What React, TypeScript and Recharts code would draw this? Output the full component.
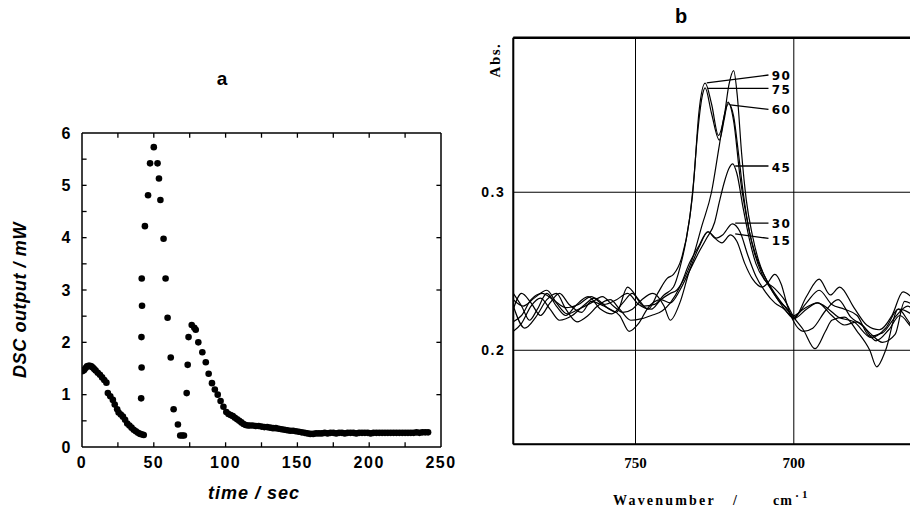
import React from 'react';
import {
  ScatterChart, Scatter, LineChart, Line, XAxis, YAxis, CartesianGrid,
  ReferenceLine, ReferenceDot,
} from 'recharts';

// ---------- Panel a: DSC output vs time ----------
const timeSec = [
  0.5, 1.5, 2.5, 3.5, 4.5, 5.5, 6.5, 7.5, 8.5, 9.5, 11, 12.5, 14, 15.5, 17,
  18, 19.7, 21.5, 22.8, 24.5, 25.5, 27, 28.5, 30, 31.5, 33, 34.5, 36, 37.5, 39, 40.5, 42, 43,
  41.2, 41.5, 41.4, 41.8, 41.6, 43.8, 46, 47.4, 50, 52.6, 53.6, 54.6, 56.8, 58.2, 59.6, 61.8, 63.8, 66.8, 68.4, 69.8, 71,
  72.9, 73.6, 74.2, 76.4, 78.2, 79.2, 81, 83.8, 86.2, 88.2, 90.5, 92.5, 94.5, 96.5, 98.5, 100.5,
  102, 103.5, 105, 106.5, 108, 109.5, 111, 112.5, 114, 115.5, 117, 119, 121, 123, 125, 127, 129, 131, 133, 135,
  137, 139, 141, 143, 145, 147, 149, 151, 153, 155, 157, 159, 161, 163, 165, 167, 169, 171, 173, 175,
  177, 179, 181, 183, 185, 187, 189, 191, 193, 195, 197, 199, 201, 203, 205, 207, 209, 211, 213, 215,
  217, 219, 221, 223, 225, 227, 229, 231, 233, 235, 237, 239, 241,
];
const dscMw = [
  1.45, 1.47, 1.51, 1.54, 1.55, 1.55, 1.54, 1.52, 1.49, 1.46, 1.42, 1.38, 1.33, 1.28, 1.23,
  1.03, 0.97, 0.9, 0.81, 0.72, 0.66, 0.62, 0.58, 0.52, 0.45, 0.41, 0.37, 0.33, 0.3, 0.27, 0.25, 0.24, 0.23,
  0.93, 1.52, 2.1, 2.7, 3.22, 4.22, 4.81, 5.42, 5.73, 5.42, 5.13, 4.72, 3.98, 3.22, 2.47, 1.71, 0.72, 0.43, 0.22, 0.22, 0.22,
  1.03, 1.57, 2.1, 2.33, 2.28, 2.24, 2.0, 1.81, 1.62, 1.4, 1.22, 1.1, 1.0, 0.88, 0.77, 0.67,
  0.63, 0.61, 0.59, 0.56, 0.53, 0.5, 0.47, 0.44, 0.42, 0.41, 0.41, 0.41, 0.4, 0.4, 0.39, 0.38, 0.38, 0.37, 0.36, 0.36,
  0.35, 0.34, 0.33, 0.32, 0.31, 0.31, 0.3, 0.29, 0.28, 0.27, 0.26, 0.25, 0.25, 0.26, 0.26, 0.26, 0.27, 0.26, 0.27, 0.27,
  0.26, 0.27, 0.27, 0.26, 0.27, 0.27, 0.27, 0.26, 0.27, 0.27, 0.27, 0.27, 0.26, 0.27, 0.27, 0.27, 0.27, 0.27, 0.27, 0.27,
  0.27, 0.27, 0.27, 0.27, 0.27, 0.27, 0.27, 0.27, 0.28, 0.27, 0.28, 0.28, 0.28,
];
const xTicksA = [0, 50, 100, 150, 200, 250];
const xMinorA = [25, 50, 75, 100, 125, 150, 175, 200, 225];
const yTicksA = [0, 1, 2, 3, 4, 5, 6];
const yMinorA = [0.5, 1, 1.5, 2, 2.5, 3, 3.5, 4, 4.5, 5, 5.5];
const yRightA = [1, 2, 3, 4, 5];

// ---------- Panel b: IR spectra ----------
const s90: [number, number][] = [
  [788.6, 0.226], [786, 0.236], [783, 0.230], [780, 0.222], [777, 0.230], [774, 0.236], [771, 0.229], [767, 0.224],
  [764, 0.231], [760, 0.228], [756, 0.224], [752.5, 0.240], [749, 0.232], [746, 0.226], [743, 0.236], [740, 0.2455],
  [738, 0.248], [735.5, 0.258], [733, 0.282], [731.5, 0.31], [730, 0.35], [728, 0.369], [726, 0.356], [723.8, 0.336],
  [722, 0.348], [720.5, 0.368], [719, 0.377], [717.8, 0.36], [716.5, 0.325], [715, 0.295], [713, 0.272], [711, 0.256],
  [708, 0.242], [705, 0.232], [702, 0.226], [700, 0.22], [696, 0.234], [692, 0.245], [688.5, 0.235], [685.5, 0.240],
  [681, 0.227], [677, 0.216], [673, 0.213], [669, 0.222], [665.5, 0.237], [662, 0.232], [658, 0.222], [654, 0.225],
];
const s75: [number, number][] = [
  [788.6, 0.236], [786, 0.228], [783.5, 0.219], [781, 0.226], [778, 0.236], [775, 0.228], [772, 0.222], [769, 0.228],
  [765, 0.234], [761, 0.226], [757.5, 0.223], [754, 0.230], [751, 0.236], [747.5, 0.228], [744, 0.229], [741, 0.235],
  [738, 0.24], [736, 0.252], [734, 0.27], [732, 0.298], [730.5, 0.335], [729, 0.36], [728, 0.366], [726, 0.35],
  [723.5, 0.333], [722, 0.346], [720.8, 0.357], [719, 0.345], [717, 0.31], [715, 0.285], [712.5, 0.262], [710, 0.248],
  [707, 0.238], [704, 0.229], [700, 0.221], [696, 0.23], [692, 0.238], [688, 0.229], [684, 0.226], [680, 0.222],
  [676, 0.209], [672, 0.211], [668, 0.221], [664, 0.228], [660, 0.22], [655, 0.215],
];
const s60: [number, number][] = [
  [788.6, 0.218], [786, 0.222], [783, 0.232], [779.5, 0.236], [776, 0.232], [772, 0.227], [768, 0.229], [764, 0.234],
  [760, 0.229], [756, 0.232], [752.5, 0.236], [749, 0.229], [745, 0.226], [742, 0.232], [739, 0.236], [737, 0.238],
  [735, 0.244], [732, 0.258], [729, 0.279], [726, 0.30], [723.5, 0.33], [721.8, 0.35], [720.6, 0.356], [719, 0.348],
  [717.5, 0.325], [716, 0.30], [714, 0.275], [712, 0.26], [709, 0.246], [706, 0.236], [703, 0.228], [700, 0.222],
  [697, 0.226], [692.5, 0.230], [689, 0.226], [686, 0.221], [681, 0.218], [675.5, 0.208], [671, 0.214], [667, 0.226],
  [663, 0.223], [658, 0.212], [654, 0.210],
];
const s45: [number, number][] = [
  [788.6, 0.212], [786, 0.217], [783, 0.228], [780, 0.233], [777, 0.226], [774, 0.219], [770, 0.222], [766, 0.229],
  [763, 0.233], [759, 0.227], [755, 0.222], [752, 0.212], [749, 0.217], [746, 0.227], [742, 0.232], [739, 0.230],
  [736, 0.238], [733, 0.25], [730, 0.262], [727.5, 0.271], [725, 0.281], [723.5, 0.294], [722, 0.306], [720.5, 0.315],
  [719.3, 0.318], [718, 0.312], [716, 0.29], [714, 0.27], [712, 0.255], [709, 0.244], [706, 0.239], [703, 0.232],
  [700, 0.221], [697, 0.213], [693.3, 0.201], [690, 0.212], [688, 0.219], [684, 0.221], [680, 0.212], [676, 0.200],
  [673.8, 0.1895], [671, 0.20], [667, 0.226], [664, 0.219], [660, 0.207], [655, 0.212],
];
const s30: [number, number][] = [
  [788.6, 0.232], [785.5, 0.228], [782, 0.233], [778, 0.238], [775, 0.230], [771.5, 0.223], [768, 0.226], [764, 0.230],
  [760.5, 0.234], [757, 0.228], [754, 0.224], [751, 0.226], [748, 0.232], [744.5, 0.236], [741, 0.228], [739, 0.219],
  [736, 0.23], [733, 0.25], [730, 0.265], [727, 0.275], [724.5, 0.271], [722.5, 0.273], [719.4, 0.280], [717, 0.275],
  [714.5, 0.26], [712, 0.247], [709, 0.237], [706, 0.230], [703, 0.226], [700, 0.220], [696, 0.226], [692.5, 0.230],
  [688, 0.222], [684, 0.216], [680, 0.218], [676, 0.211], [672, 0.205], [668, 0.21], [665, 0.231], [662, 0.228],
  [658, 0.218], [654, 0.22],
];
const s15: [number, number][] = [
  [788.6, 0.228], [785, 0.214], [781.5, 0.221], [778, 0.232], [775, 0.236], [772, 0.226], [768.5, 0.218], [765, 0.222],
  [762, 0.228], [758, 0.232], [755, 0.226], [751.5, 0.219], [748, 0.22], [745, 0.222], [741.5, 0.225], [739, 0.230],
  [736, 0.240], [733, 0.255], [730, 0.266], [727.2, 0.275], [725, 0.271], [722.7, 0.268], [720, 0.273], [718, 0.269],
  [715.5, 0.255], [713, 0.245], [710, 0.24], [708.5, 0.242], [706, 0.248], [704, 0.242], [702, 0.228], [700, 0.218],
  [697, 0.212], [694, 0.214], [690, 0.225], [686, 0.232], [682, 0.221], [678, 0.215], [674, 0.206], [670, 0.213],
  [666.5, 0.222], [663, 0.215], [658, 0.205], [654, 0.21],
];
const seriesNames = ['90', '75', '60', '45', '30', '15'];
const seriesData = [s90, s75, s60, s45, s30, s15];
const leaderStart = [[708.0, 0.3742], [708.0, 0.3657], [708.0, 0.3524], [708.0, 0.3166], [708.0, 0.2804], [708.0, 0.2708]];
const leaderEnd = [[727.5, 0.3692], [727.2, 0.3657], [720.1, 0.3553], [718.5, 0.3166], [718.5, 0.2804], [718.5, 0.2736]];
const labelAbs = [0.3736, 0.3652, 0.3521, 0.3156, 0.2799, 0.2696];
const xTicksB = [750, 700];
const yTicksB = [0.2, 0.3];

const pointsA = timeSec.map((t, i) => ({ t, v: dscMw[i] }));
const linesB = seriesData.map((arr) => arr.map(([w, a]) => ({ w, a })));

const sansBold = { fill: '#000', fontSize: 16, fontWeight: 700, fontFamily: 'Liberation Sans, Arial, sans-serif', letterSpacing: 1.5 };
const frame = { stroke: '#000', strokeWidth: 1.5 };
// inward tick lengths in data units (≈4-5 px)
const tickDX = 3.2;
const tickDY = 0.09;

const Dot = (p: any) => <circle cx={p.cx} cy={p.cy} r={3.3} fill="#000" />;

export default function App() {
  return (
    <div style={{ position: 'fixed', left: 0, top: 0, width: 910, height: 512, overflow: 'hidden', background: '#fff' }}>
      <div style={{ position: 'absolute', left: 0, top: 0 }}>
        <ScatterChart width={460} height={512} margin={{ top: 133, right: 19, bottom: 35, left: 52 }}>
          <XAxis xAxisId="x" type="number" dataKey="t" domain={[0, 250]} ticks={xTicksA} allowDataOverflow
            height={30} tickLine={false} tickSize={6} tickMargin={4} axisLine={frame} tick={sansBold} />
          <XAxis xAxisId="xt" orientation="top" type="number" domain={[0, 250]} allowDataOverflow mirror
            tick={false} tickLine={false} axisLine={frame} />
          <YAxis yAxisId="y" type="number" dataKey="v" domain={[0, 6]} ticks={yTicksA} allowDataOverflow
            width={30} tickLine={false} tickSize={6} tickMargin={4} axisLine={frame} tick={sansBold} />
          <YAxis yAxisId="yr" orientation="right" type="number" domain={[0, 6]} allowDataOverflow mirror
            tick={false} tickLine={false} axisLine={frame} />
          {yMinorA.map((v) => (
            <ReferenceLine key={'yl' + v} xAxisId="x" yAxisId="y" segment={[{ x: 0, y: v }, { x: tickDX, y: v }]}
              stroke="#000" strokeWidth={1.3} />
          ))}
          {yRightA.map((v) => (
            <ReferenceLine key={'yr' + v} xAxisId="x" yAxisId="y" segment={[{ x: 250 - tickDX, y: v }, { x: 250, y: v }]}
              stroke="#000" strokeWidth={1.3} />
          ))}
          {xMinorA.map((v) => (
            <ReferenceLine key={'xb' + v} xAxisId="x" yAxisId="y" segment={[{ x: v, y: 0 }, { x: v, y: tickDY }]}
              stroke="#000" strokeWidth={1.3} />
          ))}
          {xMinorA.map((v) => (
            <ReferenceLine key={'xt' + v} xAxisId="x" yAxisId="y" segment={[{ x: v, y: 6 - tickDY }, { x: v, y: 6 }]}
              stroke="#000" strokeWidth={1.3} />
          ))}
          <Scatter xAxisId="x" yAxisId="y" data={pointsA} fill="#000" shape={Dot} isAnimationActive={false} />
        </ScatterChart>
      </div>
      <div style={{ position: 'absolute', left: 455, top: 0 }}>
        <LineChart width={510} height={512} margin={{ top: 37.7, right: 12.9, bottom: 37.7, left: 18.3 }}>
          <CartesianGrid stroke="#000" strokeWidth={1} />
          <XAxis type="number" dataKey="w" domain={[650, 788.6]} reversed ticks={xTicksB} allowDataOverflow
            height={30} tickLine={false} tickSize={6} tickMargin={7}
            axisLine={{ stroke: '#000', strokeWidth: 2 }}
            tick={{ fill: '#000', fontSize: 15, fontWeight: 700, fontFamily: 'Liberation Serif, Times New Roman, serif' }} />
          <XAxis xAxisId="top" orientation="top" type="number" domain={[650, 788.6]} reversed allowDataOverflow mirror
            tick={false} tickLine={false} axisLine={{ stroke: '#000', strokeWidth: 2.5 }} />
          <YAxis type="number" domain={[0.1405, 0.3978]} ticks={yTicksB} allowDataOverflow width={40}
            tickLine={false} tickSize={4} tickMargin={4} tickFormatter={(v: number) => v.toFixed(1)}
            axisLine={{ stroke: '#000', strokeWidth: 2 }}
            tick={{ fill: '#000', fontSize: 14, fontWeight: 700, fontFamily: 'Liberation Sans, Arial, sans-serif', letterSpacing: 1.5 }} />
          {linesB.map((d, i) => (
            <Line key={seriesNames[i]} data={d} dataKey="a" type="monotone" stroke="#000" strokeWidth={1.2}
              dot={false} activeDot={false} isAnimationActive={false} />
          ))}
          {seriesNames.map((n, i) => (
            <ReferenceLine key={'l' + n}
              segment={[{ x: leaderStart[i][0], y: leaderStart[i][1] }, { x: leaderEnd[i][0], y: leaderEnd[i][1] }]}
              stroke="#000" strokeWidth={1.3} ifOverflow="visible" />
          ))}
          {seriesNames.map((n, i) => (
            <ReferenceDot key={'t' + n} x={707.0} y={labelAbs[i]} r={0} ifOverflow="visible"
              shape={(p: any) => (
                <text x={p.cx} y={p.cy} dy="0.36em" fontSize={12} fontWeight={700}
                  fontFamily="DejaVu Sans, Verdana, sans-serif" letterSpacing={1.5} fill="#000">{n}</text>
              )} />
          ))}
        </LineChart>
      </div>
      <svg width={910} height={512} style={{ position: 'absolute', left: 0, top: 0, pointerEvents: 'none' }}>
        <g fontFamily="Liberation Sans, Arial, sans-serif" fontWeight={700} fill="#000">
          <text x={222} y={85} fontSize={19} textAnchor="middle">a</text>
          <text x={26} y={300} fontSize={18} fontStyle="italic" textAnchor="middle" letterSpacing={0.6}
            transform="rotate(-90 26 300)">DSC output / mW</text>
          <text x={254} y={499} fontSize={18} fontStyle="italic" textAnchor="middle" letterSpacing={1}>time / sec</text>
          <text x={681} y={23} fontSize={20} textAnchor="middle">b</text>
        </g>
        <g fontFamily="Liberation Serif, Times New Roman, serif" fontWeight={700} fill="#000">
          <text x={500} y={60} fontSize={15} textAnchor="middle" letterSpacing={1.5}
            transform="rotate(-90 500 60)">Abs.</text>
          <text x={613} y={505} fontSize={14} letterSpacing={2.2}>Wavenumber</text>
          <text x={735} y={505} fontSize={14} textAnchor="middle">/</text>
          <text x={773} y={505} fontSize={14} letterSpacing={1}>cm</text>
          <text x={795} y={500} fontSize={12}>·</text>
          <text x={802} y={498} fontSize={11}>1</text>
        </g>
      </svg>
    </div>
  );
}
